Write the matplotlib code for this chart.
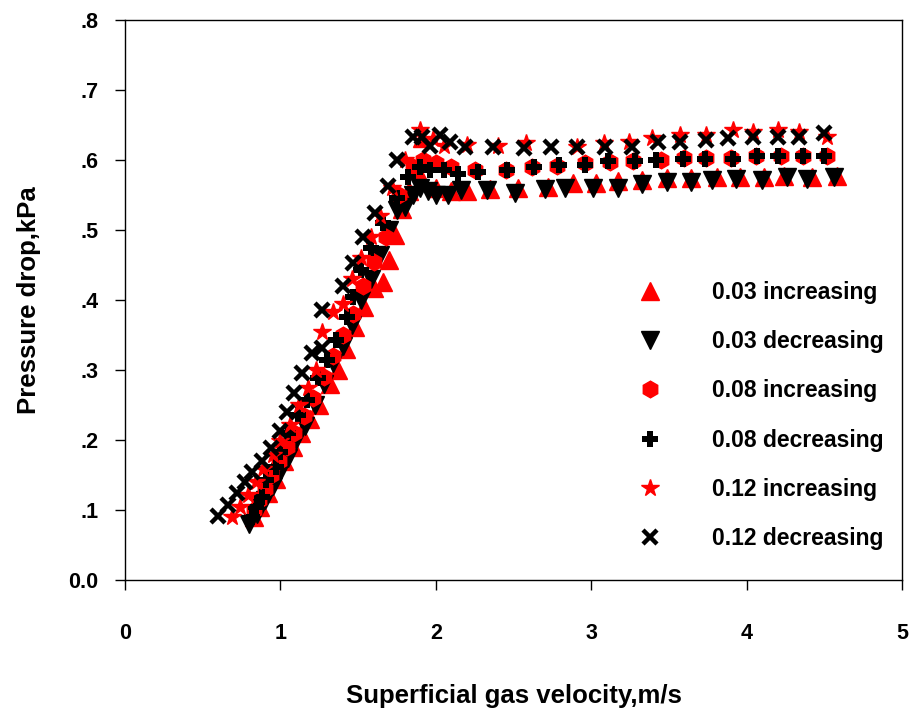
import matplotlib
matplotlib.use("Agg")
import matplotlib.pyplot as plt
from matplotlib.ticker import FixedLocator, FuncFormatter

plt.rcParams['font.family'] = ['Liberation Sans', 'DejaVu Sans']
plt.rcParams['font.weight'] = 'bold'

# 0.03 increasing (red up-triangle)
x_03_inc = [0.83, 0.87, 0.92, 0.97, 1.02, 1.08, 1.13, 1.19, 1.25, 1.32, 1.37, 1.42, 1.48, 1.54,
            1.60, 1.66, 1.70, 1.74, 1.78, 1.83, 1.88, 1.91, 2.00, 2.10, 2.20, 2.35, 2.53, 2.72,
            2.88, 3.03, 3.17, 3.33, 3.49, 3.64, 3.81, 3.96, 4.11, 4.24, 4.42, 4.58]
y_03_inc = [0.090, 0.105, 0.125, 0.145, 0.170, 0.190, 0.210, 0.230, 0.250, 0.280, 0.300, 0.330,
            0.361, 0.390, 0.417, 0.426, 0.457, 0.493, 0.530, 0.555, 0.585, 0.632, 0.560, 0.555,
            0.555, 0.558, 0.560, 0.561, 0.567, 0.567, 0.570, 0.572, 0.574, 0.574, 0.576, 0.576,
            0.576, 0.577, 0.576, 0.577]

# 0.03 decreasing (black down-triangle)
x_03_dec = [0.80, 0.85, 0.90, 0.95, 1.00, 1.05, 1.10, 1.16, 1.22, 1.28, 1.34, 1.40, 1.46, 1.52,
            1.58, 1.64, 1.70, 1.75, 1.80, 1.85, 1.90, 1.95, 2.00, 2.08, 2.16, 2.33, 2.51, 2.70,
            2.83, 3.01, 3.17, 3.33, 3.49, 3.64, 3.78, 3.93, 4.10, 4.26, 4.39, 4.56]
y_03_dec = [0.080, 0.095, 0.115, 0.135, 0.155, 0.175, 0.200, 0.220, 0.250, 0.280, 0.310, 0.335,
            0.365, 0.400, 0.430, 0.465, 0.500, 0.528, 0.533, 0.550, 0.560, 0.555, 0.550, 0.550,
            0.557, 0.557, 0.553, 0.558, 0.560, 0.560, 0.560, 0.565, 0.568, 0.568, 0.572, 0.573,
            0.571, 0.575, 0.573, 0.575]

# 0.08 increasing (red hexagon)
x_08_inc = [0.83, 0.86, 0.90, 0.94, 0.99, 1.04, 1.09, 1.15, 1.21, 1.28, 1.34, 1.40, 1.47, 1.53,
            1.60, 1.68, 1.76, 1.85, 1.92, 2.00, 2.10, 2.25, 2.45, 2.62, 2.78, 2.96, 3.12, 3.27,
            3.45, 3.60, 3.74, 3.90, 4.06, 4.22, 4.36, 4.52]
y_08_inc = [0.100, 0.115, 0.130, 0.150, 0.170, 0.190, 0.210, 0.235, 0.260, 0.290, 0.320, 0.350,
            0.380, 0.420, 0.455, 0.490, 0.550, 0.590, 0.600, 0.595, 0.590, 0.585, 0.585, 0.590,
            0.592, 0.595, 0.597, 0.598, 0.600, 0.603, 0.603, 0.603, 0.605, 0.606, 0.606, 0.606]

# 0.08 decreasing (black plus)
x_08_dec = [0.82, 0.84, 0.88, 0.91, 0.97, 1.00, 1.05, 1.11, 1.17, 1.24, 1.30, 1.36, 1.43, 1.47,
            1.52, 1.58, 1.66, 1.75, 1.82, 1.90, 1.96, 2.05, 2.14, 2.27, 2.46, 2.63, 2.79, 2.96,
            3.11, 3.28, 3.42, 3.59, 3.73, 3.91, 4.07, 4.20, 4.36, 4.50]
y_08_dec = [0.090, 0.104, 0.119, 0.143, 0.161, 0.183, 0.210, 0.236, 0.257, 0.289, 0.314, 0.343,
            0.376, 0.405, 0.443, 0.474, 0.510, 0.546, 0.575, 0.590, 0.585, 0.585, 0.580, 0.583,
            0.586, 0.590, 0.593, 0.593, 0.598, 0.598, 0.600, 0.602, 0.602, 0.602, 0.605, 0.605,
            0.605, 0.605]

# 0.12 increasing (red star)
x_12_inc = [0.69, 0.74, 0.79, 0.84, 0.89, 0.95, 1.00, 1.06, 1.12, 1.18, 1.23, 1.27, 1.34, 1.40,
            1.46, 1.52, 1.58, 1.64, 1.72, 1.80, 1.90, 1.98, 2.05, 2.20, 2.40, 2.58, 2.91, 3.08,
            3.24, 3.39, 3.57, 3.74, 3.91, 4.04, 4.20, 4.34, 4.52]
y_12_inc = [0.090, 0.105, 0.122, 0.140, 0.158, 0.178, 0.198, 0.222, 0.250, 0.275, 0.300, 0.354,
            0.383, 0.395, 0.430, 0.460, 0.490, 0.520, 0.560, 0.600, 0.643, 0.630, 0.620, 0.622,
            0.620, 0.624, 0.619, 0.624, 0.626, 0.631, 0.636, 0.636, 0.643, 0.640, 0.643, 0.640,
            0.633]

# 0.12 decreasing (black x)
x_12_dec = [0.60, 0.66, 0.72, 0.77, 0.82, 0.88, 0.94, 1.00, 1.04, 1.09, 1.14, 1.20, 1.27, 1.27,
            1.40, 1.47, 1.53, 1.61, 1.69, 1.75, 1.85, 1.91, 1.96, 2.03, 2.09, 2.19, 2.37, 2.57,
            2.74, 2.91, 3.09, 3.26, 3.43, 3.57, 3.74, 3.88, 4.04, 4.20, 4.34, 4.50]
y_12_dec = [0.091, 0.107, 0.124, 0.140, 0.155, 0.170, 0.188, 0.213, 0.240, 0.267, 0.296, 0.324,
            0.331, 0.386, 0.420, 0.453, 0.490, 0.524, 0.563, 0.600, 0.633, 0.633, 0.620, 0.636,
            0.626, 0.619, 0.619, 0.617, 0.619, 0.619, 0.619, 0.619, 0.626, 0.626, 0.629, 0.631,
            0.633, 0.633, 0.633, 0.638]

labels = ['0.03 increasing', '0.03 decreasing', '0.08 increasing',
          '0.08 decreasing', '0.12 increasing', '0.12 decreasing']
x_ticks = [0, 1, 2, 3, 4, 5]
y_ticks = [0.0, 0.1, 0.2, 0.3, 0.4, 0.5, 0.6, 0.7, 0.8]

fig = plt.figure(figsize=(9.10, 7.11), dpi=100)
ax = fig.add_axes([0.1374, 0.1842, 0.8538, 0.7877])

ax.plot(x_03_inc, y_03_inc, ls='none', marker='^', ms=13, color='#ff0000', mec='#ff0000', label=labels[0])
ax.plot(x_03_dec, y_03_dec, ls='none', marker='v', ms=13, color='black', label=labels[1])
ax.plot(x_08_inc, y_08_inc, ls='none', marker='h', ms=12, color='#ff0000', mec='#ff0000', label=labels[2])
ax.plot(x_08_dec, y_08_dec, ls='none', marker='P', ms=11, color='black', mew=0, label=labels[3])
ax.plot(x_12_inc, y_12_inc, ls='none', marker='*', ms=13, color='#ff0000', mec='#ff0000', label=labels[4])
ax.plot(x_12_dec, y_12_dec, ls='none', marker='x', ms=9.5, color='black', mew=3.2, label=labels[5])

ax.set_xlim(0, 5)
ax.set_ylim(0, 0.8)
ax.xaxis.set_major_locator(FixedLocator(x_ticks))
ax.yaxis.set_major_locator(FixedLocator(y_ticks))

def yfmt(v, pos):
    if abs(v) < 1e-9:
        return '0.0'
    return ('%.1f' % v).lstrip('0')

ax.yaxis.set_major_formatter(FuncFormatter(yfmt))
ax.tick_params(axis='x', direction='out', length=7, width=1, pad=24, labelsize=15.5)
ax.tick_params(axis='y', direction='out', length=7, width=1, pad=12, labelsize=15.5)
for lab in ax.get_xticklabels() + ax.get_yticklabels():
    lab.set_fontweight('bold')
for sp in ax.spines.values():
    sp.set_linewidth(1.0)

ax.set_xlabel('Superficial gas velocity,m/s', fontsize=18.5, fontweight='bold', labelpad=29)
ax.set_ylabel('Pressure drop,kPa', fontsize=18.5, fontweight='bold', labelpad=20)

leg = ax.legend(loc='upper left', bbox_to_anchor=(0.6345, 0.55), frameon=False,
                fontsize=16.5, labelspacing=1.14, handletextpad=1.7, markerscale=1.0,
                borderaxespad=0)
for t in leg.get_texts():
    t.set_fontweight('bold')

fig.savefig('out.png', dpi=100)
